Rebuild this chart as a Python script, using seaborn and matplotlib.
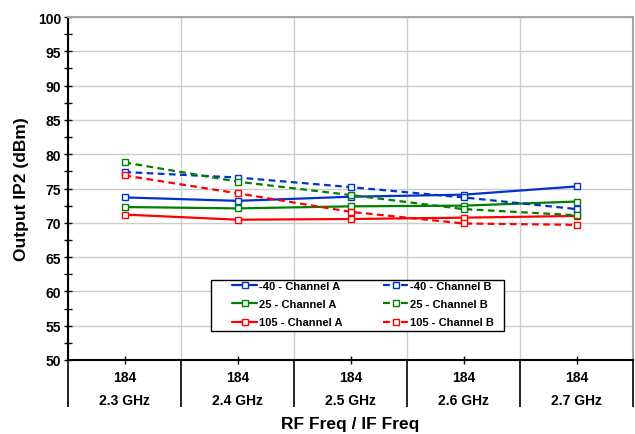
import numpy as np
import matplotlib
matplotlib.use("Agg")
import matplotlib.pyplot as plt
import matplotlib.patches as mpatches
import seaborn as sns

# data
rf_labels = ["184", "184", "184", "184", "184"]
if_labels = ["2.3 GHz", "2.4 GHz", "2.5 GHz", "2.6 GHz", "2.7 GHz"]

m40_a = [73.7, 73.2, 73.8, 74.1, 75.3]
p25_a = [72.3, 72.1, 72.4, 72.5, 73.1]
p105_a = [71.2, 70.45, 70.55, 70.75, 71.0]
m40_b = [77.4, 76.6, 75.2, 73.7, 72.0]
p25_b = [78.8, 76.0, 74.05, 72.0, 71.1]
p105_b = [76.9, 74.3, 71.6, 69.9, 69.7]

series_names = ["-40 - Channel A", "25 - Channel A", "105 - Channel A",
                "-40 - Channel B", "25 - Channel B", "105 - Channel B"]
series_vals = [m40_a, p25_a, p105_a, m40_b, p25_b, p105_b]
series_cols = ["#0033cc", "#008000", "#ff0000", "#0033cc", "#008000", "#ff0000"]
series_ls = ["-", "-", "-", (0, (3, 2)), (0, (3, 2)), (0, (3, 2))]

sns.set_style("white")
plt.rcParams["font.family"] = ["Liberation Sans", "DejaVu Sans"]
plt.rcParams["font.weight"] = "bold"
plt.rcParams["text.color"] = "black"
plt.rcParams["axes.labelcolor"] = "black"
plt.rcParams["xtick.color"] = "black"
plt.rcParams["ytick.color"] = "black"

fig = plt.figure(figsize=(6.35, 4.35), dpi=100)
ax = fig.add_axes([68 / 635, 1 - 361 / 435, 565 / 635, 343 / 435])

x = np.arange(len(if_labels))
for name, vals, col, ls in zip(series_names, series_vals, series_cols, series_ls):
    sns.lineplot(x=x, y=vals, ax=ax, color=col, linestyle=ls, linewidth=1.6,
                 marker="s", markersize=5, markerfacecolor="white",
                 markeredgecolor=col, markeredgewidth=1.0, label=name)

ax.set_xlim(-0.5, len(x) - 0.5)
ax.set_ylim(50, 100)
ax.set_yticks(np.arange(50, 101, 5))
ax.set_yticks(np.arange(52.5, 100, 5), minor=True)
ax.set_xticks(x)
ax.set_xticks(np.arange(-0.5, len(x), 1.0), minor=True)
ax.set_xticklabels([])
ax.tick_params(axis="y", which="both", direction="inout", length=6, width=1,
               labelsize=10, pad=2, left=True, labelcolor="black")
ax.tick_params(axis="x", which="major", direction="inout", length=6, width=1,
               bottom=True)
ax.tick_params(axis="x", which="minor", direction="out", length=34, width=1.2,
               bottom=True, color="black")
for lab in ax.get_yticklabels():
    lab.set_fontweight("bold")

ax.grid(True, axis="y", which="major", color="#cccccc", linewidth=1)
ax.grid(True, axis="x", which="minor", color="#cccccc", linewidth=1)
ax.set_axisbelow(True)

for s in ["left", "bottom"]:
    ax.spines[s].set_color("black")
    ax.spines[s].set_linewidth(1.5)
for s in ["top", "right"]:
    ax.spines[s].set_color("#a6a6a6")
    ax.spines[s].set_linewidth(1.5)

trans = ax.get_xaxis_transform()
for xi, rf, fi in zip(x, rf_labels, if_labels):
    ax.text(xi, -(377.7 - 361) / 343, rf, transform=trans, ha="center",
            va="center", fontsize=10, fontweight="bold", color="black")
    ax.text(xi, -(401 - 361) / 343, fi, transform=trans, ha="center",
            va="center", fontsize=10, fontweight="bold", color="black")

ax.set_ylabel("Output IP2 (dBm)", fontsize=12.5, fontweight="bold", labelpad=6,
              color="black")
fig.text((68 + 633) / 2 / 635, 1 - 425 / 435, "RF Freq / IF Freq", ha="center",
         va="center", fontsize=12.5, fontweight="bold", color="black")

# legend box drawn separately (wider side padding than top/bottom)
box = mpatches.Rectangle(((211 - 68) / 565, (361 - 332) / 343),
                         (504 - 211) / 565, (332 - 281) / 343,
                         transform=ax.transAxes, facecolor="white",
                         edgecolor="black", linewidth=1.0, zorder=5)
ax.add_patch(box)
leg = ax.legend(ncol=2, loc="upper left",
                bbox_to_anchor=((232 - 68) / 565, (361 - 281.5) / 343),
                borderaxespad=0, borderpad=0, fontsize=8, frameon=False,
                handlelength=2.25, handletextpad=0.15,
                columnspacing=3.7, labelspacing=0.76)
leg.set_zorder(6)
for t in leg.get_texts():
    t.set_fontweight("bold")
# symmetric dash around the marker in the legend, like "- □ -"
for line, ls in zip(leg.get_lines(), series_ls):
    if ls != "-":
        line.set_linestyle((0, (3.1, 5.0)))

fig.savefig("out.png", dpi=100)
